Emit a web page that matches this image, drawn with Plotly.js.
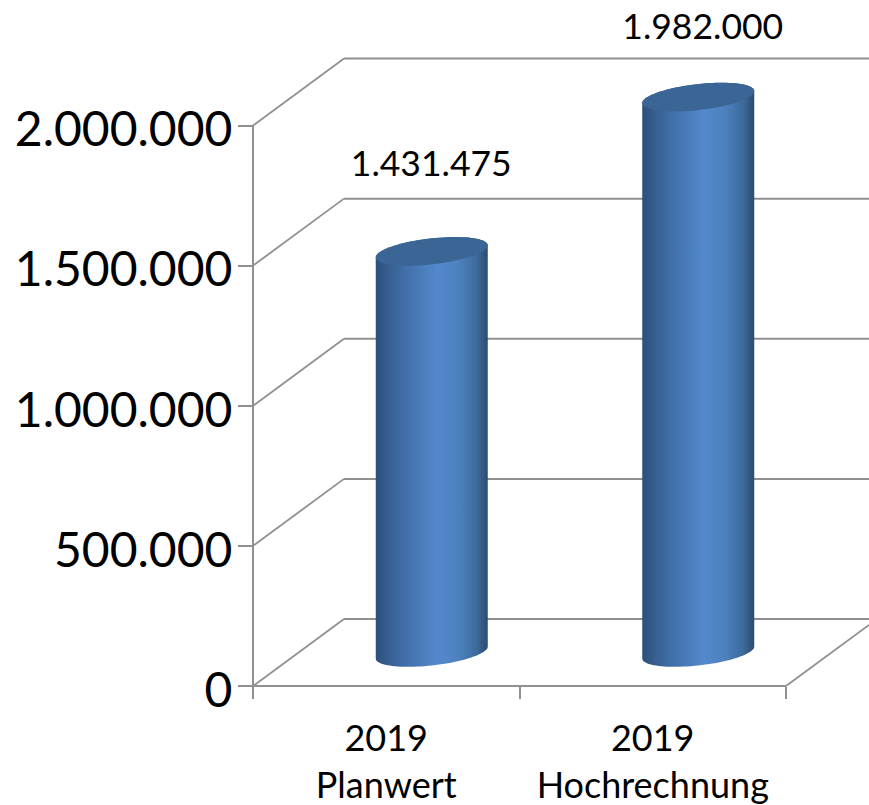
<!DOCTYPE html>
<html><head><meta charset="utf-8">
<script src="https://cdn.plot.ly/plotly-3.0.1.min.js"></script>
<style>html,body{margin:0;padding:0;background:#fff}#c{width:869px;height:805px}</style>
</head><body><div id="c"></div>
<script>
const categories = ["2019<br>Planwert", "2019<br>Hochrechnung"];
const values = [1431475, 1982000];
const valueTicks = [0, 500000, 1000000, 1500000, 2000000];
const labelLift = [118, 100];
const labelShift = [45, 50];

const W = 869, H = 805, L = 253, R = 786, T = 125.5, B = 686;
const pxX = (R - L) / categories.length, pxY = (B - T) / 2000000;
const dx = p => p / pxX, dy = p => p / pxY;
const DEPTH_X = 91, DEPTH_Y = 67, GRID = '#909090';
const A = 56, Bb = 13, K = -6;
const xEnd = (W - L) / pxX;
const top2 = valueTicks[valueTicks.length - 1];

const traces = [];
const base = {mode: 'lines', hoverinfo: 'skip', showlegend: false, cliponaxis: false};
valueTicks.forEach(v => {
  traces.push({...base, x: [0, dx(DEPTH_X)], y: [v, v + dy(DEPTH_Y)], line: {color: GRID, width: 1.8}});
  traces.push({...base, x: [dx(DEPTH_X), xEnd], y: [v + dy(DEPTH_Y), v + dy(DEPTH_Y)], line: {color: GRID, width: 2}});
});
traces.push({...base, x: [categories.length, xEnd], y: [0, dy((W - R) * DEPTH_Y / DEPTH_X)], line: {color: GRID, width: 1.8}});
traces.push({...base, x: [0, 0], y: [0, top2], line: {color: GRID, width: 2}});
traces.push({...base, x: [0, categories.length], y: [0, 0], line: {color: GRID, width: 2}});

function ell(cx, vy, t0, t1, n) {
  const xs = [], ys = [];
  for (let i = 0; i <= n; i++) {
    const t = t0 + (t1 - t0) * i / n;
    xs.push(cx + dx(A * Math.cos(t)));
    ys.push(vy - dy(Bb * Math.sin(t) + K * Math.cos(t)));
  }
  return [xs, ys];
}
const sideScale = [[0, '#2d4f7a'], [0.12, '#375f91'], [0.3, '#4373ae'], [0.55, '#5389cd'], [0.75, '#4c80bd'], [0.9, '#3d6a9c'], [1, '#2c4b72']];
values.forEach((v, i) => {
  const cx = i + 0.5 + dx(DEPTH_X / 2);
  const off = dy(DEPTH_Y / 2);
  const lo = ell(cx, off, 0, Math.PI, 48);
  const hi = ell(cx, v + off, Math.PI, 2 * Math.PI, 48);
  traces.push({...base, x: lo[0].concat(hi[0]), y: lo[1].concat(hi[1]), fill: 'toself', mode: 'none',
    fillgradient: {type: 'horizontal', colorscale: sideScale}});
  const top = ell(cx, v + off, 0, 2 * Math.PI, 96);
  traces.push({...base, x: top[0], y: top[1], fill: 'toself', mode: 'none', fillcolor: '#3b6594'});
});
const fmt = v => String(v).replace(/\B(?=(\d{3})+$)/g, '.');
traces.push({mode: 'text', hoverinfo: 'skip', showlegend: false, cliponaxis: false,
  x: values.map((v, i) => i + 0.5 + dx(labelShift[i])),
  y: values.map((v, i) => v + dy(labelLift[i])),
  text: values.map(fmt), textposition: 'middle center',
  textfont: {family: 'Lato', size: 35.5, color: '#000'}});

const layout = {
  width: W, height: H, showlegend: false,
  paper_bgcolor: '#fff', plot_bgcolor: 'rgba(0,0,0,0)',
  margin: {l: 0, r: 0, t: 0, b: 0, pad: 0},
  font: {family: 'Lato', color: '#000'},
  xaxis: {type: 'linear', range: [-L / pxX, xEnd], showgrid: false, zeroline: false, showline: false,
    anchor: 'free', position: (H - B) / H, side: 'bottom',
    tickmode: 'array', tickvals: categories.map((c, i) => i + 0.5), ticktext: categories,
    ticks: '', ticklabelstandoff: 28, tickfont: {family: 'Lato', size: 36, color: '#000'},
    minor: {tickmode: 'array', tickvals: categories.map((c, i) => i).concat(categories.length), ticks: 'outside', ticklen: 12, tickwidth: 2, tickcolor: GRID, showgrid: false}},
  yaxis: {range: [-(H - B) / pxY, B / pxY], showgrid: false, zeroline: false, showline: false,
    anchor: 'free', position: L / W, side: 'left',
    tickmode: 'array', tickvals: valueTicks, ticktext: valueTicks.map(fmt),
    ticks: 'outside', ticklen: 15, tickwidth: 2, tickcolor: GRID, ticklabelshift: 4, ticklabelstandoff: -4,
    tickfont: {family: 'Lato', size: 48, color: '#000'}}
};
Plotly.newPlot('c', traces, layout, {displayModeBar: false, staticPlot: true});
</script></body></html>
